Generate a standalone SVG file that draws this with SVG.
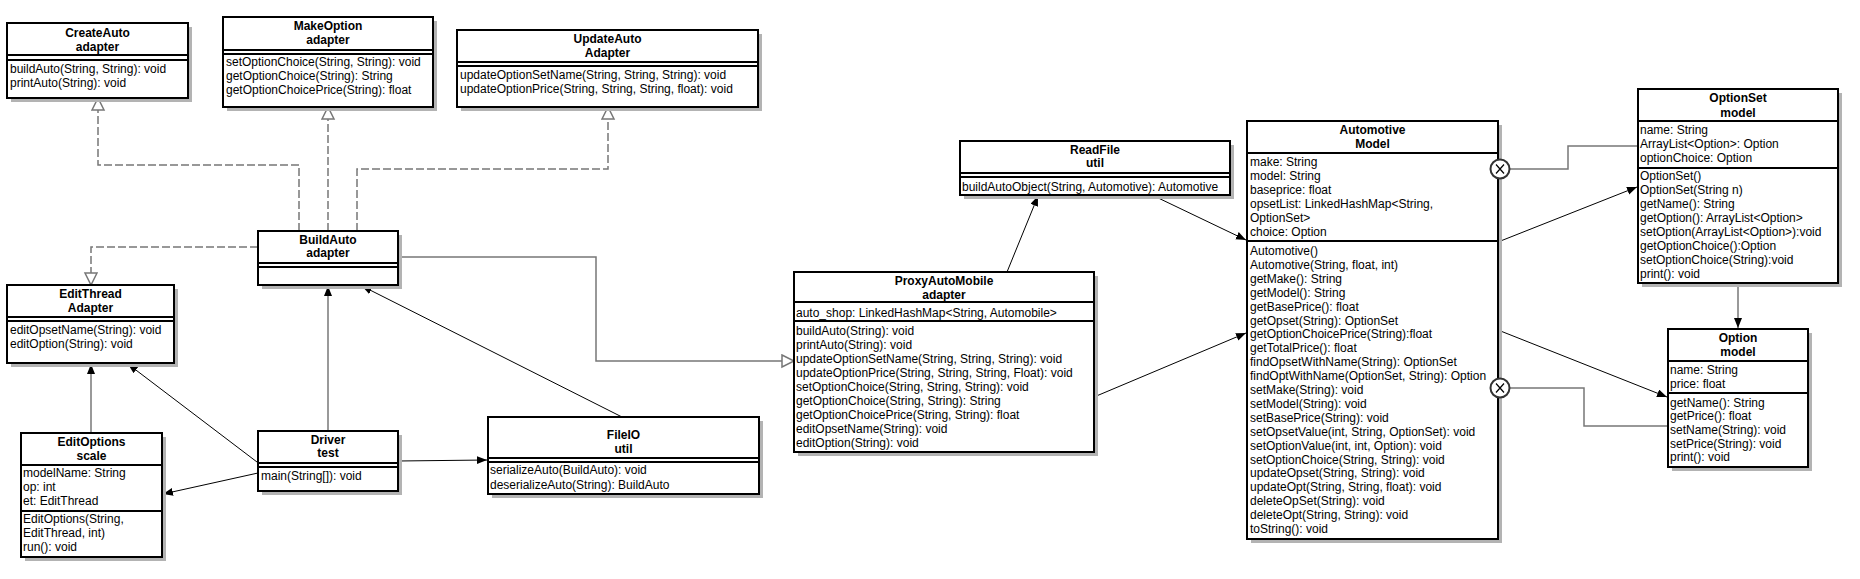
<svg xmlns="http://www.w3.org/2000/svg" width="1860" height="579" viewBox="0 0 1860 579">
<style>
.bg{fill:#fff}
.sh{fill:#b3b3b3}
.box{fill:#fff;stroke:#000;stroke-width:2}
.sep{stroke:#000;stroke-width:2}
.t{font-family:'Liberation Sans',Arial,sans-serif;font-size:12px;font-weight:bold;text-anchor:middle;fill:#000}
.m{font-family:'Liberation Sans',Arial,sans-serif;font-size:12px;fill:#000}
.g{fill:none;stroke:#777;stroke-width:1.5}
.d{fill:none;stroke:#777;stroke-width:1.5;stroke-dasharray:8 3}
.k{fill:none;stroke:#000;stroke-width:1}
.cc{fill:#fff;stroke:#333;stroke-width:2}
</style>
<defs>
<marker id="fa" markerUnits="userSpaceOnUse" markerWidth="12" markerHeight="10" refX="10" refY="4" orient="auto"><path d="M0,0 L10,4 L0,8 Z" fill="#000"/></marker>
<marker id="ht" markerUnits="userSpaceOnUse" markerWidth="16" markerHeight="16" refX="13" refY="7" orient="auto"><path d="M1,1 L13,7 L1,13 Z" fill="#fff" stroke="#777" stroke-width="1.5"/></marker>
</defs>
<rect class="bg" x="0" y="0" width="1860" height="579"/>

<g id="connectors">
<path class="d" d="M299,231 V165 H98 V98" marker-end="url(#ht)"/>
<path class="d" d="M328,231 V107" marker-end="url(#ht)"/>
<path class="d" d="M357,231 V169 H608 V107" marker-end="url(#ht)"/>
<path class="d" d="M258,247 H91 V285" marker-end="url(#ht)"/>
<path class="g" d="M398,257 H596 V361 H794" marker-end="url(#ht)"/>
<path class="g" d="M91,433 V364" marker-end="url(#fa)"/>
<path class="k" d="M257,462 L128,364" marker-end="url(#fa)"/>
<path class="g" d="M328,431 V286" marker-end="url(#fa)"/>
<path class="k" d="M622,417 L362,286" marker-end="url(#fa)"/>
<path class="k" d="M398,461 L487,460" marker-end="url(#fa)"/>
<path class="k" d="M258,473 L163,494" marker-end="url(#fa)"/>
<path class="k" d="M1007,272 L1038,196" marker-end="url(#fa)"/>
<path class="k" d="M1152,195 L1246,240" marker-end="url(#fa)"/>
<path class="k" d="M1094,397 L1246,333" marker-end="url(#fa)"/>
<path class="k" d="M1498,242 L1637,187" marker-end="url(#fa)"/>
<path class="k" d="M1498,330 L1667,397" marker-end="url(#fa)"/>
<path class="g" d="M1738,283 V328" marker-end="url(#fa)"/>
<path class="g" d="M1510,169 H1568 V146 H1638"/>
<path class="g" d="M1510,388 H1584 V426 H1668"/>
</g>

<g id="CreateAuto">
<rect class="sh" x="11" y="27" width="181" height="75"/>
<rect class="box" x="7" y="23" width="181" height="75"/>
<line class="sep" x1="7" y1="55" x2="188" y2="55"/><line class="sep" x1="7" y1="60" x2="188" y2="60"/>
<text class="t" x="97.5" y="37">CreateAuto</text><text class="t" x="97.5" y="51">adapter</text>
<text class="m" x="10" y="73">buildAuto(String, String): void</text>
<text class="m" x="10" y="87">printAuto(String): void</text>
</g>

<g id="MakeOption">
<rect class="sh" x="227" y="21" width="210" height="90"/>
<rect class="box" x="223" y="17" width="210" height="90"/>
<line class="sep" x1="223" y1="50" x2="433" y2="50"/><line class="sep" x1="223" y1="54" x2="433" y2="54"/>
<text class="t" x="328" y="30">MakeOption</text><text class="t" x="328" y="44">adapter</text>
<text class="m" x="226" y="66">setOptionChoice(String, String): void</text>
<text class="m" x="226" y="80">getOptionChoice(String): String</text>
<text class="m" x="226" y="94">getOptionChoicePrice(String): float</text>
</g>

<g id="UpdateAuto">
<rect class="sh" x="461" y="34" width="301" height="77"/>
<rect class="box" x="457" y="30" width="301" height="77"/>
<line class="sep" x1="457" y1="62" x2="758" y2="62"/><line class="sep" x1="457" y1="66" x2="758" y2="66"/>
<text class="t" x="607.5" y="43">UpdateAuto</text><text class="t" x="607.5" y="57">Adapter</text>
<text class="m" x="460" y="79">updateOptionSetName(String, String, String): void</text>
<text class="m" x="460" y="93">updateOptionPrice(String, String, String, float): void</text>
</g>

<g id="BuildAuto">
<rect class="sh" x="262" y="235" width="140" height="54"/>
<rect class="box" x="258" y="231" width="140" height="54"/>
<line class="sep" x1="258" y1="263" x2="398" y2="263"/><line class="sep" x1="258" y1="267" x2="398" y2="267"/>
<text class="t" x="328" y="244">BuildAuto</text><text class="t" x="328" y="257">adapter</text>
</g>

<g id="EditThread">
<rect class="sh" x="11" y="289" width="167" height="78"/>
<rect class="box" x="7" y="285" width="167" height="78"/>
<line class="sep" x1="7" y1="317" x2="174" y2="317"/><line class="sep" x1="7" y1="321" x2="174" y2="321"/>
<text class="t" x="90.5" y="298">EditThread</text><text class="t" x="90.5" y="312">Adapter</text>
<text class="m" x="10" y="334">editOpsetName(String): void</text>
<text class="m" x="10" y="348">editOption(String): void</text>
</g>

<g id="EditOptions">
<rect class="sh" x="25" y="437" width="141" height="124"/>
<rect class="box" x="21" y="433" width="141" height="124"/>
<line class="sep" x1="21" y1="465" x2="162" y2="465"/><line class="sep" x1="21" y1="511" x2="162" y2="511"/>
<text class="t" x="91.5" y="446">EditOptions</text><text class="t" x="91.5" y="460">scale</text>
<text class="m" x="23" y="477">modelName: String</text>
<text class="m" x="23" y="491">op: int</text>
<text class="m" x="23" y="505">et: EditThread</text>
<text class="m" x="23" y="523">EditOptions(String,</text>
<text class="m" x="23" y="537">EditThread, int)</text>
<text class="m" x="23" y="551">run(): void</text>
</g>

<g id="Driver">
<rect class="sh" x="262" y="435" width="140" height="60"/>
<rect class="box" x="258" y="431" width="140" height="60"/>
<line class="sep" x1="258" y1="463" x2="398" y2="463"/><line class="sep" x1="258" y1="467" x2="398" y2="467"/>
<text class="t" x="328" y="444">Driver</text><text class="t" x="328" y="457">test</text>
<text class="m" x="261" y="480">main(String[]): void</text>
</g>

<g id="FileIO">
<rect class="sh" x="492" y="421" width="271" height="77"/>
<rect class="box" x="488" y="417" width="271" height="77"/>
<line class="sep" x1="488" y1="458" x2="759" y2="458"/><line class="sep" x1="488" y1="462" x2="759" y2="462"/>
<text class="t" x="623.5" y="439">FileIO</text><text class="t" x="623.5" y="453">util</text>
<text class="m" x="490" y="474">serializeAuto(BuildAuto): void</text>
<text class="m" x="490" y="489">deserializeAuto(String): BuildAuto</text>
</g>

<g id="ProxyAutoMobile">
<rect class="sh" x="798" y="276" width="300" height="180"/>
<rect class="box" x="794" y="272" width="300" height="180"/>
<line class="sep" x1="794" y1="302" x2="1094" y2="302"/><line class="sep" x1="794" y1="321" x2="1094" y2="321"/>
<text class="t" x="944" y="285">ProxyAutoMobile</text><text class="t" x="944" y="299">adapter</text>
<text class="m" x="796" y="317">auto_shop: LinkedHashMap&lt;String, Automobile&gt;</text>
<text class="m" x="796" y="335">buildAuto(String): void</text>
<text class="m" x="796" y="349">printAuto(String): void</text>
<text class="m" x="796" y="363">updateOptionSetName(String, String, String): void</text>
<text class="m" x="796" y="377">updateOptionPrice(String, String, String, Float): void</text>
<text class="m" x="796" y="391">setOptionChoice(String, String, String): void</text>
<text class="m" x="796" y="405">getOptionChoice(String, String): String</text>
<text class="m" x="796" y="419">getOptionChoicePrice(String, String): float</text>
<text class="m" x="796" y="433">editOpsetName(String): void</text>
<text class="m" x="796" y="447">editOption(String): void</text>
</g>

<g id="ReadFile">
<rect class="sh" x="964" y="145" width="270" height="54"/>
<rect class="box" x="960" y="141" width="270" height="54"/>
<line class="sep" x1="960" y1="173" x2="1230" y2="173"/><line class="sep" x1="960" y1="177" x2="1230" y2="177"/>
<text class="t" x="1095" y="154">ReadFile</text><text class="t" x="1095" y="167">util</text>
<text class="m" x="962" y="191">buildAutoObject(String, Automotive): Automotive</text>
</g>

<g id="Automotive">
<rect class="sh" x="1251" y="125" width="251" height="418"/>
<rect class="box" x="1247" y="121" width="251" height="418"/>
<line class="sep" x1="1247" y1="153" x2="1498" y2="153"/><line class="sep" x1="1247" y1="241" x2="1498" y2="241"/>
<text class="t" x="1372.5" y="134">Automotive</text><text class="t" x="1372.5" y="148">Model</text>
<text class="m" x="1250" y="166">make: String</text>
<text class="m" x="1250" y="180">model: String</text>
<text class="m" x="1250" y="194">baseprice: float</text>
<text class="m" x="1250" y="208">opsetList: LinkedHashMap&lt;String,</text>
<text class="m" x="1250" y="222">OptionSet&gt;</text>
<text class="m" x="1250" y="236">choice: Option</text>
<text class="m" x="1250" y="255">Automotive()</text>
<text class="m" x="1250" y="269">Automotive(String, float, int)</text>
<text class="m" x="1250" y="283">getMake(): String</text>
<text class="m" x="1250" y="297">getModel(): String</text>
<text class="m" x="1250" y="311">getBasePrice(): float</text>
<text class="m" x="1250" y="325">getOpset(String): OptionSet</text>
<text class="m" x="1250" y="338">getOptionChoicePrice(String):float</text>
<text class="m" x="1250" y="352">getTotalPrice(): float</text>
<text class="m" x="1250" y="366">findOpsetWithName(String): OptionSet</text>
<text class="m" x="1250" y="380">findOptWithName(OptionSet, String): Option</text>
<text class="m" x="1250" y="394">setMake(String): void</text>
<text class="m" x="1250" y="408">setModel(String): void</text>
<text class="m" x="1250" y="422">setBasePrice(String): void</text>
<text class="m" x="1250" y="436">setOpsetValue(int, String, OptionSet): void</text>
<text class="m" x="1250" y="450">setOptionValue(int, int, Option): void</text>
<text class="m" x="1250" y="464">setOptionChoice(String, String): void</text>
<text class="m" x="1250" y="477">updateOpset(String, String): void</text>
<text class="m" x="1250" y="491">updateOpt(String, String, float): void</text>
<text class="m" x="1250" y="505">deleteOpSet(String): void</text>
<text class="m" x="1250" y="519">deleteOpt(String, String): void</text>
<text class="m" x="1250" y="533">toString(): void</text>
</g>

<g id="OptionSet">
<rect class="sh" x="1642" y="93" width="200" height="194"/>
<rect class="box" x="1638" y="89" width="200" height="194"/>
<line class="sep" x1="1638" y1="121" x2="1838" y2="121"/><line class="sep" x1="1638" y1="168" x2="1838" y2="168"/>
<text class="t" x="1738" y="102">OptionSet</text><text class="t" x="1738" y="117">model</text>
<text class="m" x="1640" y="134">name: String</text>
<text class="m" x="1640" y="148">ArrayList&lt;Option&gt;: Option</text>
<text class="m" x="1640" y="162">optionChoice: Option</text>
<text class="m" x="1640" y="180">OptionSet()</text>
<text class="m" x="1640" y="194">OptionSet(String n)</text>
<text class="m" x="1640" y="208">getName(): String</text>
<text class="m" x="1640" y="222">getOption(): ArrayList&lt;Option&gt;</text>
<text class="m" x="1640" y="236">setOption(ArrayList&lt;Option&gt;):void</text>
<text class="m" x="1640" y="250">getOptionChoice():Option</text>
<text class="m" x="1640" y="264">setOptionChoice(String):void</text>
<text class="m" x="1640" y="278">print(): void</text>
</g>

<g id="Option">
<rect class="sh" x="1672" y="333" width="140" height="138"/>
<rect class="box" x="1668" y="329" width="140" height="138"/>
<line class="sep" x1="1668" y1="361" x2="1808" y2="361"/><line class="sep" x1="1668" y1="393" x2="1808" y2="393"/>
<text class="t" x="1738" y="342">Option</text><text class="t" x="1738" y="356">model</text>
<text class="m" x="1670" y="374">name: String</text>
<text class="m" x="1670" y="388">price: float</text>
<text class="m" x="1670" y="407">getName(): String</text>
<text class="m" x="1670" y="420">getPrice(): float</text>
<text class="m" x="1670" y="434">setName(String): void</text>
<text class="m" x="1670" y="448">setPrice(String): void</text>
<text class="m" x="1670" y="461">print(): void</text>
</g>

<g id="composition-markers">
<circle class="cc" cx="1500" cy="169" r="9.5"/>
<path d="M1496,164.5 L1504,173.5 M1504,164.5 L1496,173.5" stroke="#000" stroke-width="1.2"/>
<circle class="cc" cx="1500" cy="388" r="9.5"/>
<path d="M1496,383.5 L1504,392.5 M1504,383.5 L1496,392.5" stroke="#000" stroke-width="1.2"/>
</g>
</svg>
